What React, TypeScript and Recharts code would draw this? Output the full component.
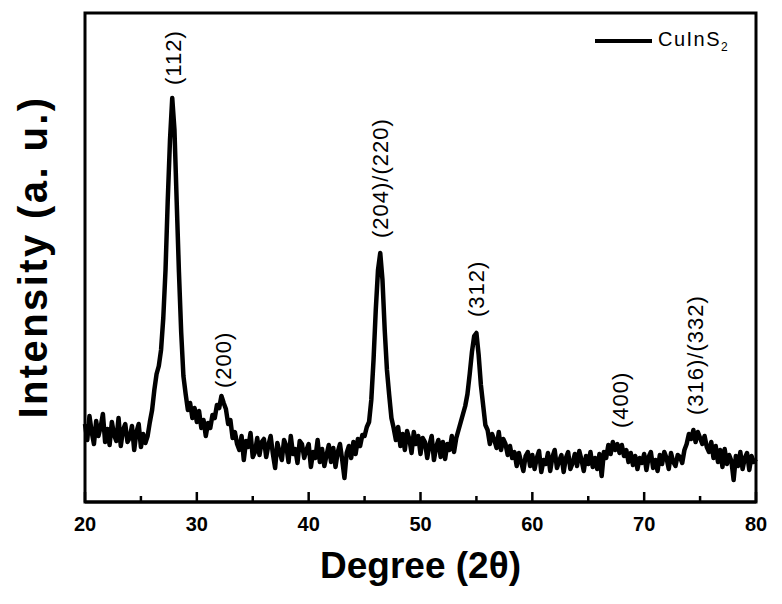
import React from 'react';
import { LineChart, Line, XAxis, YAxis, ReferenceArea, ReferenceDot } from 'recharts';

// 2θ sampling: 20° to 80° every 0.2°
const START_DEG = 20;
const STEP_DEG = 0.2;

// intensity (a.u.), one row = 2°
const intensity: number[] = [
  78, 62, 86, 70, 58, 81, 66, 75, 88, 60,
  73, 57, 80, 67, 61, 84, 56, 72, 78, 60,
  64, 76, 52, 70, 78, 55, 68, 59, 66, 80,
  92, 112, 128, 136, 152, 184, 232, 302, 362, 404,
  372, 300, 230, 170, 126, 108, 92, 99, 84, 94,
  80, 91, 74, 82, 66, 79, 74, 87, 84, 97,
  94, 106, 99, 93, 78, 82, 64, 70, 58, 52,
  66, 42, 61, 55, 69, 45, 50, 64, 47, 60,
  63, 45, 57, 66, 48, 34, 59, 50, 42, 62,
  56, 40, 66, 48, 53, 39, 61, 58, 44, 52,
  58, 35, 50, 44, 62, 40, 53, 36, 47, 57,
  40, 54, 35, 50, 58, 42, 24, 49, 56, 44,
  60, 48, 63, 56, 67, 66, 75, 80, 102, 142,
  192, 232, 249, 222, 172, 132, 107, 84, 74, 62,
  75, 56, 68, 52, 71, 63, 49, 70, 58, 66,
  48, 64, 60, 44, 57, 66, 42, 55, 62, 45,
  60, 43, 58, 52, 66, 50, 64, 72, 80, 88,
  96, 108, 128, 150, 166, 169, 147, 117, 97, 77,
  72, 58, 68, 62, 54, 70, 52, 63, 58, 47,
  56, 44, 50, 36, 49, 40, 31, 46, 50, 36,
  47, 33, 44, 51, 30, 42, 38, 49, 31, 45,
  52, 34, 41, 47, 30, 44, 50, 33, 39, 48,
  36, 51, 42, 31, 46, 38, 50, 35, 44, 33,
  48, 26, 50, 44, 57, 48, 60, 52, 58, 49,
  57, 46, 52, 40, 49, 37, 46, 33, 44, 39,
  48, 32, 45, 50, 34, 42, 31, 47, 38, 50,
  44, 33, 49, 40, 36, 47, 45, 39, 52, 58,
  68, 63, 72, 60, 70, 64, 58, 66, 55, 50,
  60, 44, 56, 40, 52, 35, 53, 38, 47, 41,
  22, 46, 36, 50, 33, 44, 49, 32, 46, 40,
  43,
];

const xTicks = [20, 25, 30, 35, 40, 45, 50, 55, 60, 65, 70, 75, 80];

// peak indexing labels
const peakNames = ['(112)', '(200)', '(204)/(220)', '(312)', '(400)', '(316)/(332)'];
const peakDeg = [27.9, 32.35, 46.4, 55.0, 67.85, 74.55];
const peakLabelBase = [417, 114, 264, 185, 74, 87];

const data = intensity.map((v, i) => ({ deg: +(START_DEG + i * STEP_DEG).toFixed(1), counts: v }));

const FONT = '"Liberation Sans", Arial, sans-serif';

const DegreeTick = (props: any) => {
  const { x, y, payload } = props;
  const major = payload.value % 10 === 0;
  return (
    <g>
      <line x1={x} x2={x} y1={y} y2={y - (major ? 10 : 6)} stroke="#000" strokeWidth={2.5} />
      {major && (
        <text x={x} y={y + 29} textAnchor="middle" fontFamily={FONT} fontWeight="bold" fontSize={20} fill="#000">
          {payload.value}
        </text>
      )}
    </g>
  );
};

const PeakLabel = (text: string) => (p: any) => (
  <text
    x={p.cx}
    y={p.cy}
    transform={`rotate(-90 ${p.cx} ${p.cy})`}
    textAnchor="start"
    dominantBaseline="central"
    fontFamily={FONT}
    fontSize={22}
    letterSpacing={1}
    fill="#000"
  >
    {text}
  </text>
);

export default function App() {
  return (
    <div style={{ position: 'absolute', left: 0, top: 0, width: 782, height: 604, background: '#fff' }}>
      <LineChart width={782} height={604} data={data} margin={{ top: 13, right: 26, left: 85, bottom: 22 }}>
        <XAxis
          dataKey="deg"
          type="number"
          domain={[20, 80]}
          ticks={xTicks}
          interval={0}
          height={80}
          tickSize={0}
          tickMargin={0}
          tickLine={false}
          axisLine={{ stroke: '#000', strokeWidth: 3 }}
          tick={<DegreeTick />}
        />
        <YAxis hide domain={[0, 489]} allowDataOverflow />
        <ReferenceArea x1={20} x2={80} y1={0} y2={489} fill="none" stroke="#000" strokeWidth={3} />
        <Line
          type="linear"
          dataKey="counts"
          name="CuInS2"
          stroke="#000"
          strokeWidth={4.5}
          strokeLinejoin="round"
          dot={false}
          isAnimationActive={false}
        />
        {peakNames.map((n, i) => (
          <ReferenceDot key={n} x={peakDeg[i]} y={peakLabelBase[i]} r={0} shape={PeakLabel(n)} />
        ))}
      </LineChart>
      {/* legend */}
      <div
        style={{
          position: 'absolute',
          left: 595,
          top: 28,
          display: 'flex',
          alignItems: 'center',
          fontFamily: FONT,
          fontSize: 20,
          color: '#000',
        }}
      >
        <div style={{ width: 57, height: 4, background: '#000', marginRight: 6 }} />
        <span style={{ letterSpacing: 1.5 }}>
          CuInS<sub style={{ fontSize: 12, letterSpacing: 0 }}>2</sub>
        </span>
      </div>
      <div
        style={{
          position: 'absolute',
          left: 85,
          width: 671,
          top: 545,
          textAlign: 'center',
          fontFamily: FONT,
          fontWeight: 'bold',
          fontSize: 37,
          color: '#000',
        }}
      >
        Degree (2θ)
      </div>
      <div
        style={{
          position: 'absolute',
          left: 33,
          top: 257,
          transform: 'translate(-50%, -50%) rotate(-90deg)',
          whiteSpace: 'nowrap',
          fontFamily: FONT,
          fontWeight: 'bold',
          fontSize: 40,
          letterSpacing: 2.4,
          color: '#000',
        }}
      >
        Intensity (a. u.)
      </div>
    </div>
  );
}
